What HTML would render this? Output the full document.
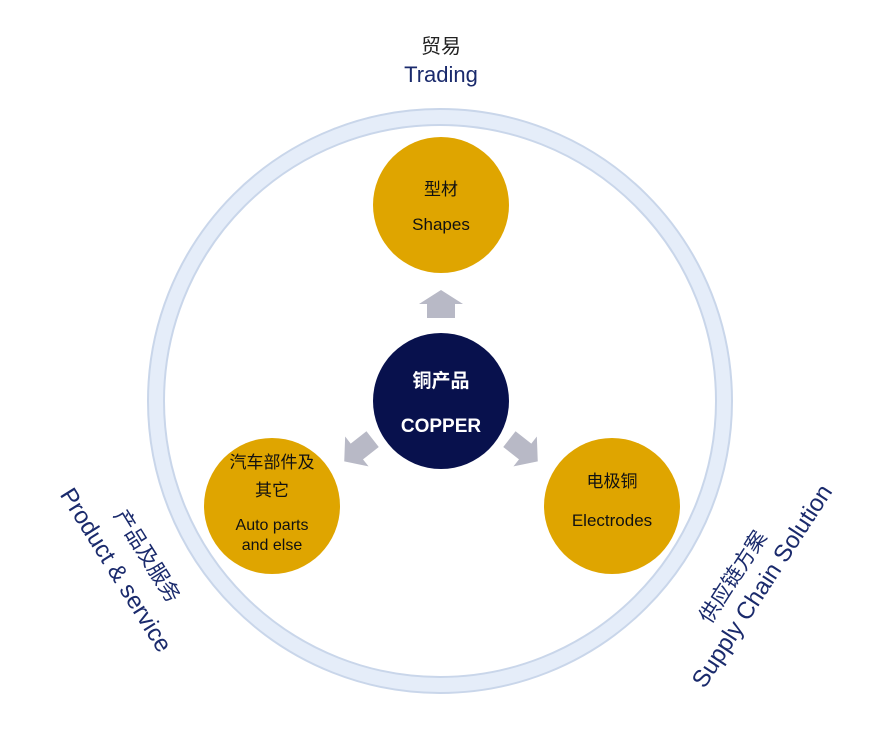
<!DOCTYPE html>
<html><head><meta charset="utf-8"><style>
html,body{margin:0;padding:0;background:#fff;}
svg{display:block}
text{font-family:"Liberation Sans","Noto Sans CJK SC",sans-serif;}
</style></head><body>
<svg width="893" height="751" viewBox="0 0 893 751">
<circle cx="440" cy="401" r="284" fill="none" stroke="#c9d6ea" stroke-width="18"/>
<circle cx="440" cy="401" r="284" fill="none" stroke="#e5edf9" stroke-width="14"/>
<text x="441" y="53" font-size="20" text-anchor="middle" fill="#222">贸易</text>
<text x="441" y="82" font-size="22" text-anchor="middle" fill="#1a2a6c">Trading</text>
<circle cx="441" cy="205" r="68" fill="#dfa500"/>
<text x="441" y="195" font-size="17" text-anchor="middle" fill="#111">型材</text>
<text x="441" y="230" font-size="17" text-anchor="middle" fill="#111">Shapes</text>
<circle cx="441" cy="401" r="68" fill="#08114d"/>
<text x="441" y="387" font-size="19" font-weight="bold" text-anchor="middle" fill="#fff">铜产品</text>
<text x="441" y="432" font-size="19" font-weight="bold" text-anchor="middle" fill="#fff">COPPER</text>
<circle cx="272" cy="506" r="68" fill="#dfa500"/>
<text x="272" y="468" font-size="17" text-anchor="middle" fill="#111">汽车部件及</text>
<text x="272" y="496" font-size="17" text-anchor="middle" fill="#111">其它</text>
<text x="272" y="530" font-size="16" text-anchor="middle" fill="#111">Auto parts</text>
<text x="272" y="550" font-size="16" text-anchor="middle" fill="#111">and else</text>
<circle cx="612" cy="506" r="68" fill="#dfa500"/>
<text x="612" y="487" font-size="17" text-anchor="middle" fill="#111">电极铜</text>
<text x="612" y="526" font-size="17" text-anchor="middle" fill="#111">Electrodes</text>
<polygon points="441,290 463,304 455,304 455,318 427,318 427,304 419,304" fill="#b8b9c6"/>
<g transform="translate(360,449) rotate(-128)"><polygon points="0,-20 -19,-4 -10,-4 -10,16 10,16 10,-4 19,-4" fill="#b8b9c6"/></g>
<g transform="translate(522,449) rotate(128)"><polygon points="0,-20 -19,-4 -10,-4 -10,16 10,16 10,-4 19,-4" fill="#b8b9c6"/></g>
<g transform="translate(116,570) rotate(58)"><text x="0" y="8" font-size="24" text-anchor="middle" fill="#1a2a6c">Product &amp; service</text></g>
<g transform="translate(147,556) rotate(58)"><text x="0" y="7" font-size="21" text-anchor="middle" fill="#1a2a6c">产品及服务</text></g>
<g transform="translate(762,586) rotate(-57)"><text x="0" y="8" font-size="24" text-anchor="middle" fill="#1a2a6c">Supply Chain Solution</text></g>
<g transform="translate(733,577) rotate(-57)"><text x="0" y="7" font-size="21" text-anchor="middle" fill="#1a2a6c">供应链方案</text></g>
</svg>
</body></html>
